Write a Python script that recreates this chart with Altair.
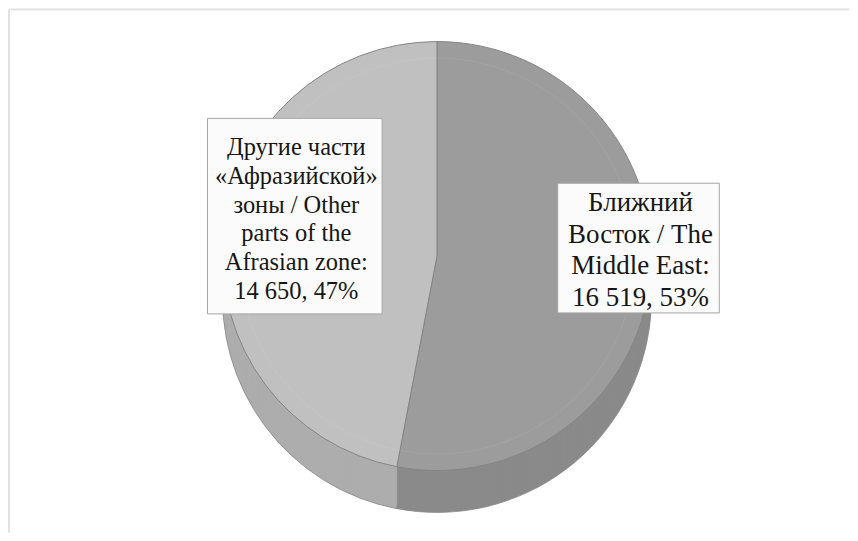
import altair as alt
import pandas as pd

# ---- data ----
categories_ru_en = ["Ближний Восток / The Middle East", "Другие части «Афразийской» зоны / Other parts of the Afrasian zone"]
label_lines = [
    ["Ближний", "Восток / The", "Middle East:"],
    ["Другие части", "«Афразийской»", "зоны / Other", "parts of the", "Afrasian zone:"],
]
values = [16519, 14650]
order = [0, 1]
top_colors = ["#9c9c9c", "#c0c0c0"]
side_colors = ["#8a8a8a", "#adadad"]

total = sum(values)

def fmt(v):
    return f"{v:,}".replace(",", " ")

labels = []
for lines, v in zip(label_lines, values):
    pct = round(v / total * 100)
    labels.append(lines + [f"{fmt(v)}, {pct}%"])

df = pd.DataFrame({
    "category": categories_ru_en,
    "value": values,
    "ord": order,
})

# ---- geometry / style ----
W, H = 842, 525
CX, CY = 429, 248
R = 215
DEPTH = 42
FONT = "Liberation Serif"

color_top = alt.Color("category:N", scale=alt.Scale(domain=categories_ru_en, range=top_colors), legend=None)
color_side = alt.Color("category:N", scale=alt.Scale(domain=categories_ru_en, range=side_colors), legend=None)

base = alt.Chart(df)

side_layers = []
for off in range(DEPTH, 0, -2):
    side_layers.append(
        base.mark_arc(radius=R, stroke=None).encode(
            theta=alt.Theta("value:Q", stack=True),
            order=alt.Order("ord:Q"),
            color=color_side,
            x=alt.value(CX),
            y=alt.value(CY + off),
        )
    )
side = alt.layer(*side_layers)

edge = base.mark_arc(radius=R, stroke="#8a8a8a", strokeWidth=0.8, fillOpacity=0).encode(
    theta=alt.Theta("value:Q", stack=True),
    order=alt.Order("ord:Q"),
    x=alt.value(CX),
    y=alt.value(CY + DEPTH),
)

top = base.mark_arc(radius=R, stroke="#858585", strokeWidth=1).encode(
    theta=alt.Theta("value:Q", stack=True),
    order=alt.Order("ord:Q"),
    color=color_top,
    x=alt.value(CX),
    y=alt.value(CY),
)

ring = base.mark_arc(radius=R - 16, radius2=R - 17, stroke=None, fill="#ffffff", opacity=0.07).encode(
    theta=alt.Theta("value:Q", stack=True),
    order=alt.Order("ord:Q"),
    x=alt.value(CX),
    y=alt.value(CY),
)

label_layers = []
# box x1, y1, x2, y2, text centre x, first line centre y, line height, font size
box_pos = {
    categories_ru_en[0]: (550, 175, 712, 305, 633, 195, 31.7, 27),
    categories_ru_en[1]: (199, 110, 374, 306, 288, 140, 28.8, 24.5),
}
for cat, lines in zip(categories_ru_en, labels):
    x1, y1, x2, y2, tx, ty, lh, fs = box_pos[cat]
    label_layers.append(
        alt.Chart(pd.DataFrame({"k": [0]})).mark_rect(fill="#fbfbfb", stroke="#a5a5a5", strokeWidth=1).encode(
            x=alt.value(x1), x2=alt.value(x2), y=alt.value(y1), y2=alt.value(y2)
        )
    )
    for i, line in enumerate(lines):
        label_layers.append(
            alt.Chart(pd.DataFrame({"line": [line]})).mark_text(
                font=FONT, fontSize=fs,
                align="center", baseline="middle", color="#161616",
            ).encode(text="line:N", x=alt.value(tx), y=alt.value(ty + lh * i))
        )

frame = pd.DataFrame({"k": [0]})
frame_top = alt.Chart(frame).mark_rule(color="#e2e2e2", strokeWidth=2).encode(
    x=alt.value(0), x2=alt.value(W), y=alt.value(1))
frame_left = alt.Chart(frame).mark_rule(color="#e2e2e2", strokeWidth=2).encode(
    x=alt.value(0), y=alt.value(1), y2=alt.value(H))

chart = (
    alt.layer(side, edge, top, ring, *label_layers, frame_top, frame_left)
    .resolve_scale(color="independent")
    .properties(width=W, height=H, padding=0)
    .configure_view(stroke=None)
    .configure_text(font=FONT)
)

chart.save("out.html", embed_options={"renderer": "svg", "actions": False})
